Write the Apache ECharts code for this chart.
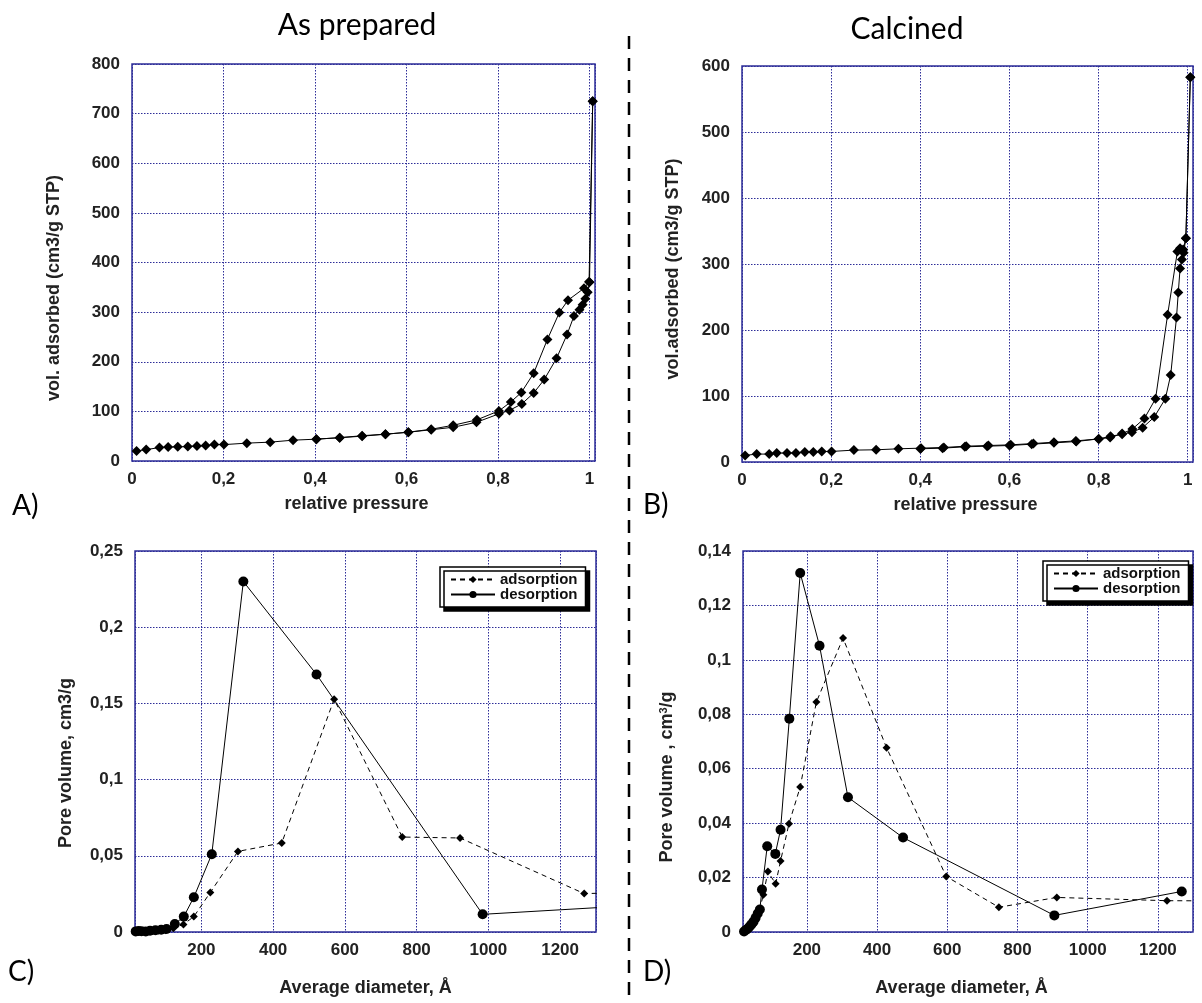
<!DOCTYPE html>
<html>
<head>
<meta charset="utf-8">
<script src="https://cdn.jsdelivr.net/npm/echarts@6/dist/echarts.min.js"></script>
<style>
html,body{margin:0;padding:0;background:#fff}
#main{width:1202px;height:1003px}
</style>
</head>
<body>
<div id="main"></div>
<script>
"use strict";
// A) as prepared isotherm, [relative pressure, vol. adsorbed]
var adsA = [[0.010,20],[0.031,23],[0.060,27],[0.079,28],[0.100,28.5],[0.122,29],[0.142,30],[0.161,31],[0.180,33],[0.201,33],
  [0.251,36],[0.302,38],[0.352,42],[0.403,44],[0.454,47],[0.503,51],[0.554,54],[0.604,58],[0.654,63],[0.702,68],
  [0.753,78],[0.802,95],[0.825,102],[0.852,115],[0.878,137],[0.901,164],[0.928,207],[0.951,255],[0.966,292],[0.978,305],
  [0.985,315],[0.991,327],[0.996,340],[1.000,360],[1.007,725]];
var desA = [[1.007,725],[0.999,361],[0.988,348],[0.953,324],[0.934,299],[0.908,245],
  [0.878,177],[0.851,138],[0.828,119],[0.802,101],[0.754,83],[0.702,72],[0.654,64],[0.604,58],[0.554,54],[0.503,50],
  [0.454,47],[0.403,44]];

// B) calcined isotherm
var adsB = [[0.007,10],[0.033,12],[0.061,12],[0.078,13.5],[0.101,13.6],[0.121,13.8],[0.141,15],[0.160,15],[0.179,16],[0.201,16],
  [0.251,18],[0.301,18.5],[0.351,20],[0.402,21],[0.453,22],[0.503,24],[0.553,25],[0.603,26],[0.654,28],[0.700,30],
  [0.749,32],[0.801,35],[0.827,39],[0.853,42],[0.875,45],[0.899,52],[0.925,68],[0.950,96],[0.962,132],[0.975,219],
  [0.979,257],[0.983,293],[0.987,307],[0.991,317],[0.996,339],[1.006,583]];
var desB = [[1.006,583],[0.996,339],[0.990,322],[0.983,324],[0.977,319],[0.955,223],[0.928,96],
  [0.903,66],[0.876,50],[0.853,43],[0.826,37],[0.800,35],[0.750,31],[0.700,29],[0.650,27],[0.600,25],[0.550,24],
  [0.500,23],[0.450,21],[0.400,20]];

// C) as prepared pore size distribution, [diameter A, pore volume]
var adsC = [[17,0.0003],[25,0.0004],[35,0.0004],[47,0.0003],[62,0.0006],[80,0.0009],[100,0.0012],[122,0.0025],[150,0.005],
  [179,0.0101],[225,0.026],[302,0.0529],[424,0.0584],[570,0.1527],[760,0.0623],[921,0.0617],[1267,0.0252],[1450,0.0262]];
var desC = [[17,0.0004],[25,0.0006],[33,0.0005],[45,0.0003],[57,0.0008],[72,0.0012],[88,0.0015],[103,0.002],[126,0.0053],
  [151,0.0101],[179,0.0228],[229,0.051],[317,0.230],[521,0.169],[984,0.0116],[1560,0.0195]];

// D) calcined pore size distribution
var adsD = [[20,0.0001],[25,0.0006],[30,0.0012],[35,0.0018],[40,0.0025],[46,0.0034],[52,0.0046],[58,0.006],[64,0.0075],
  [76,0.0137],[89,0.0222],[111,0.0177],[125,0.0261],[149,0.0398],[181,0.0533],[227,0.0845],[303,0.108],[427,0.0677],
  [597,0.0204],[747,0.0091],[912,0.0127],[1226,0.0115],[1450,0.0114]];
var desD = [[21,0.0002],[27,0.0008],[32,0.0013],[37,0.002],[42,0.0028],[48,0.0038],[54,0.0052],[60,0.0068],[66,0.0083],
  [72,0.0156],[87,0.0315],[110,0.0287],[125,0.0376],[150,0.0784],[181,0.1319],[236,0.1052],[317,0.0495],[474,0.0347],
  [905,0.0061],[1268,0.0149]];

var labelFont = "Liberation Sans, Arial, sans-serif";
var gridBlue = "#2d2d98";

function commaFmt(v) {
    return String(+(+v).toFixed(4)).replace(".", ",");
}

function makeX(gi, min, max, split, name, gap, pad) {
    return {
        type: "value", gridIndex: gi, min: min, max: max, splitNumber: split,
        name: name, nameLocation: "middle", nameGap: gap,
        nameTextStyle: {fontFamily: labelFont, fontWeight: "bold", fontSize: 18, color: "#222", padding: pad},
        axisLine: {show: false}, axisTick: {show: false},
        axisLabel: {fontFamily: labelFont, fontWeight: "bold", fontSize: 17, color: "#222", margin: 10,
            showMinLabel: min === 0, showMaxLabel: false, formatter: commaFmt},
        splitLine: {show: true, lineStyle: {color: gridBlue, type: [1.5, 1.5], width: 1}}
    };
}

function makeY(gi, max, interval, name, gap, pad, rich) {
    return {
        type: "value", gridIndex: gi, min: 0, max: max, interval: interval,
        name: name, nameLocation: "middle", nameGap: gap,
        nameTextStyle: {fontFamily: labelFont, fontWeight: "bold", fontSize: 18, color: "#222", padding: pad, rich: rich},
        axisLine: {show: false}, axisTick: {show: false},
        axisLabel: {fontFamily: labelFont, fontWeight: "bold", fontSize: 17, color: "#222", margin: 12, formatter: commaFmt},
        splitLine: {show: true, lineStyle: {color: gridBlue, type: [1.5, 1.5], width: 1}}
    };
}

function isoSeries(name, gi, data) {
    return {
        type: "line", name: name, xAxisIndex: gi, yAxisIndex: gi, data: data,
        symbol: "diamond", symbolSize: 10, color: "#000",
        lineStyle: {color: "#000", width: 1}, itemStyle: {color: "#000"},
        animation: false
    };
}

function psdSeries(name, gi, data, dashed) {
    return {
        type: "line", name: name, xAxisIndex: gi, yAxisIndex: gi, data: data,
        symbol: dashed ? "diamond" : "circle", symbolSize: dashed ? 8 : 10, color: "#000",
        lineStyle: {color: "#000", width: 1, type: dashed ? [5, 4] : "solid"}, itemStyle: {color: "#000"},
        clip: true, animation: false
    };
}

function makeLegend(left, top) {
    return {
        orient: "vertical", left: left, top: top, data: ["adsorption", "desorption"],
        backgroundColor: "#fff", borderColor: "#000", borderWidth: 1.5, borderRadius: 0,
        padding: [5, 8, 5, 10], itemGap: 0, itemWidth: 44, itemHeight: 9,
        shadowColor: "#000", shadowBlur: 0, shadowOffsetX: 4, shadowOffsetY: 4,
        selectedMode: false,
        textStyle: {fontFamily: labelFont, fontWeight: "bold", fontSize: 15, color: "#111", lineHeight: 12, padding: 0}
    };
}

function panelText(txt, x, y, size, align) {
    return {
        type: "text", x: x, y: y,
        style: {text: txt, fontFamily: "Lato, Open Sans, sans-serif", fontSize: size, fill: "#000",
            textAlign: align, textVerticalAlign: "middle"}
    };
}

var dom = document.getElementById("main");
var myChart = echarts.init(dom, null, {renderer: "canvas"});
var gridBase = {show: true, borderColor: gridBlue, borderWidth: 1.5, backgroundColor: "transparent", containLabel: false};

var option = {
    backgroundColor: "#fff",
    animation: false,
    grid: [
        Object.assign({left: 132, top: 64, width: 463, height: 397}, gridBase),
        Object.assign({left: 742, top: 66, width: 451, height: 396}, gridBase),
        Object.assign({left: 135, top: 551, width: 461, height: 381}, gridBase),
        Object.assign({left: 743, top: 551, width: 450, height: 381}, gridBase)
    ],
    xAxis: [
        makeX(0, 0, 1.012, 5, "relative pressure", 34, [0, 14, 0, 0]),
        makeX(1, 0, 1.012, 5, "relative pressure", 34, [0, 4, 0, 0]),
        makeX(2, 15, 1300, 6, "Average diameter, Å", 47, 0),
        makeX(3, 18, 1300, 6, "Average diameter, Å", 47, [0, 13, 0, 0])
    ],
    yAxis: [
        makeY(0, 800, 100, "vol. adsorbed (cm3/g STP)", 69, [0, 51, 0, 0]),
        makeY(1, 600, 100, "vol.adsorbed (cm3/g STP)", 60, [0, 10, 0, 0]),
        makeY(2, 0.25, 0.05, "Pore volume, cm3/g", 60, [0, 43, 0, 0]),
        makeY(3, 0.14, 0.02, "Pore volume , cm{sup|3}/g", 67, [0, 71, 0, 0],
            {sup: {fontFamily: labelFont, fontWeight: "bold", fontSize: 11, color: "#222", verticalAlign: "top"}})
    ],
    legend: [makeLegend(440, 567), makeLegend(1043, 561)],
    series: [
        isoSeries("ads A", 0, adsA),
        isoSeries("des A", 0, desA),
        isoSeries("ads B", 1, adsB),
        isoSeries("des B", 1, desB),
        psdSeries("adsorption", 2, adsC, true),
        psdSeries("desorption", 2, desC, false),
        psdSeries("adsorption", 3, adsD, true),
        psdSeries("desorption", 3, desD, false)
    ],
    graphic: [
        panelText("As prepared", 357, 25, 30, "center"),
        panelText("Calcined", 907, 29, 30, "center"),
        panelText("A)", 12, 506, 28, "left"),
        panelText("B)", 643, 505, 28, "left"),
        panelText("C)", 8, 972, 28, "left"),
        panelText("D)", 643, 972, 28, "left"),
        {
            type: "line", z: 10,
            shape: {x1: 629, y1: 36, x2: 629, y2: 1003},
            style: {stroke: "#000", lineWidth: 2.5, lineDash: [13, 9]}
        }
    ]
};
myChart.setOption(option, true);
</script>
</body>
</html>
